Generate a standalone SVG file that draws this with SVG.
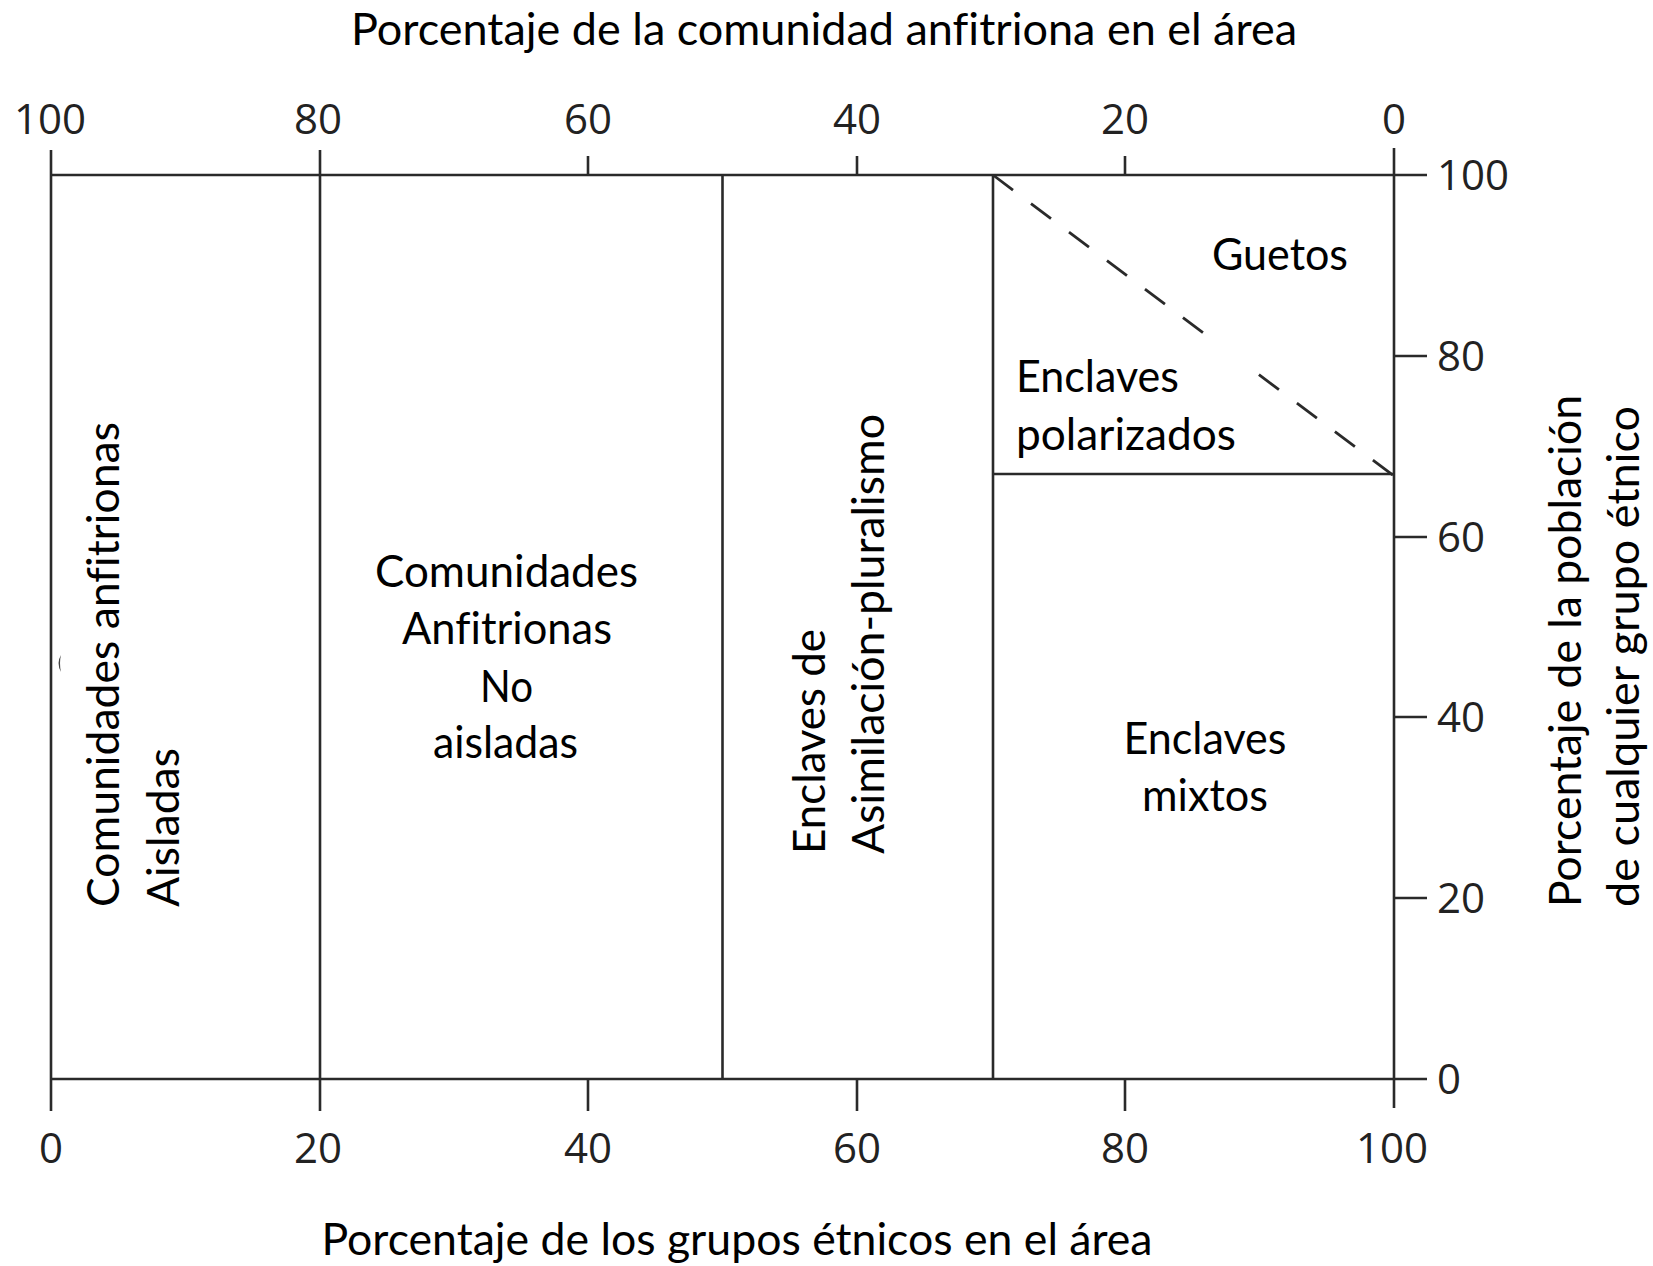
<svg xmlns="http://www.w3.org/2000/svg" width="1653" height="1266" viewBox="0 0 1653 1266">
<style>
.ax{stroke:#2a2a2a;stroke-width:2.6;fill:none;stroke-linecap:butt}
.num{font-family:"Open Sans","DejaVu Sans",sans-serif;font-size:42px;fill:#222}
.lbl{font-family:Lato,"Liberation Sans",sans-serif;font-size:44px;fill:#000;font-variant-ligatures:none;font-feature-settings:"liga" 0}
.dash{stroke:#2a2a2a;stroke-width:2.8;fill:none}
</style>
<rect width="1653" height="1266" fill="#fff"/>
<g id="connectors">
  <line class="ax" x1="51" y1="175" x2="1427" y2="175"/>
  <line class="ax" x1="51" y1="1079" x2="1427" y2="1079"/>
  <line class="ax" x1="51" y1="150" x2="51" y2="1111"/>
  <line class="ax" x1="1394" y1="148" x2="1394" y2="1108"/>
  <line class="ax" x1="320" y1="150" x2="320" y2="1111"/>
  <line class="ax" x1="722.5" y1="175" x2="722.5" y2="1079"/>
  <line class="ax" x1="993" y1="175" x2="993" y2="1079"/>
  <line class="ax" x1="993" y1="474" x2="1394" y2="474"/>
  <line class="ax" x1="588" y1="156" x2="588" y2="175"/>
  <line class="ax" x1="857" y1="156" x2="857" y2="175"/>
  <line class="ax" x1="1125" y1="156" x2="1125" y2="175"/>
  <line class="ax" x1="588" y1="1079" x2="588" y2="1111"/>
  <line class="ax" x1="857" y1="1079" x2="857" y2="1111"/>
  <line class="ax" x1="1125" y1="1079" x2="1125" y2="1111"/>
  <line class="ax" x1="1394" y1="356" x2="1427" y2="356"/>
  <line class="ax" x1="1394" y1="537" x2="1427" y2="537"/>
  <line class="ax" x1="1394" y1="717" x2="1427" y2="717"/>
  <line class="ax" x1="1394" y1="898" x2="1427" y2="898"/>
  <line class="dash" x1="993" y1="175" x2="1394" y2="476" stroke-dasharray="25 22.5 25 22.5 25 22.5 25 22.5 25 22.5 25 70 25 22.5 25 22.5 25 22.5 25 10"/>
  <path d="M61 655 Q56 663 61 672 Q59 663 61 655 Z" fill="#444"/>
</g>
<g id="top-axis">
  <text class="lbl" x="824" y="45" text-anchor="middle" textLength="946" lengthAdjust="spacingAndGlyphs">Porcentaje de la comunidad anfitriona en el área</text>
  <g text-anchor="middle">
    <text class="num" x="50" y="134">100</text>
    <text class="num" x="318" y="134">80</text>
    <text class="num" x="588" y="134">60</text>
    <text class="num" x="857" y="134">40</text>
    <text class="num" x="1125" y="134">20</text>
    <text class="num" x="1394" y="134">0</text>
  </g>
</g>
<g id="bottom-axis">
  <g text-anchor="middle">
    <text class="num" x="51" y="1163">0</text>
    <text class="num" x="318" y="1163">20</text>
    <text class="num" x="588" y="1163">40</text>
    <text class="num" x="857" y="1163">60</text>
    <text class="num" x="1125" y="1163">80</text>
    <text class="num" x="1392" y="1163">100</text>
  </g>
  <text class="lbl" x="737" y="1255" text-anchor="middle" textLength="831" lengthAdjust="spacingAndGlyphs">Porcentaje de los grupos étnicos en el área</text>
</g>
<g id="right-axis">
  <text class="num" x="1437" y="190">100</text>
  <text class="num" x="1437" y="371">80</text>
  <text class="num" x="1437" y="552">60</text>
  <text class="num" x="1437" y="732">40</text>
  <text class="num" x="1437" y="913">20</text>
  <text class="num" x="1437" y="1094">0</text>
  <text class="lbl" transform="translate(1581,907) rotate(-90)" textLength="512" lengthAdjust="spacingAndGlyphs">Porcentaje de la población</text>
  <text class="lbl" transform="translate(1639,907) rotate(-90)" textLength="501" lengthAdjust="spacingAndGlyphs">de cualquier grupo étnico</text>
</g>
<g id="node-aisladas">
  <text class="lbl" transform="translate(119,907) rotate(-90)" textLength="485" lengthAdjust="spacingAndGlyphs">Comunidades anfitrionas</text>
  <text class="lbl" transform="translate(179,907) rotate(-90)" textLength="159" lengthAdjust="spacingAndGlyphs">Aisladas</text>
</g>
<g id="node-no-aisladas" text-anchor="middle">
  <text class="lbl" x="506.5" y="587" textLength="263" lengthAdjust="spacingAndGlyphs">Comunidades</text>
  <text class="lbl" x="507" y="644" textLength="210" lengthAdjust="spacingAndGlyphs">Anfitrionas</text>
  <text class="lbl" x="506.5" y="702" textLength="53" lengthAdjust="spacingAndGlyphs">No</text>
  <text class="lbl" x="505.5" y="758" textLength="145" lengthAdjust="spacingAndGlyphs">aisladas</text>
</g>
<g id="node-asimilacion">
  <text class="lbl" transform="translate(825,854) rotate(-90)" textLength="225" lengthAdjust="spacingAndGlyphs">Enclaves de</text>
  <text class="lbl" transform="translate(884,854) rotate(-90)" textLength="440" lengthAdjust="spacingAndGlyphs">Asimilación-pluralismo</text>
</g>
<g id="node-guetos">
  <text class="lbl" x="1212" y="270" textLength="136" lengthAdjust="spacingAndGlyphs">Guetos</text>
</g>
<g id="node-polarizados">
  <text class="lbl" x="1016" y="392" textLength="163" lengthAdjust="spacingAndGlyphs">Enclaves</text>
  <text class="lbl" x="1016" y="450" textLength="220" lengthAdjust="spacingAndGlyphs">polarizados</text>
</g>
<g id="node-mixtos" text-anchor="middle">
  <text class="lbl" x="1205" y="754" textLength="163" lengthAdjust="spacingAndGlyphs">Enclaves</text>
  <text class="lbl" x="1205" y="811" textLength="126" lengthAdjust="spacingAndGlyphs">mixtos</text>
</g>
</svg>
